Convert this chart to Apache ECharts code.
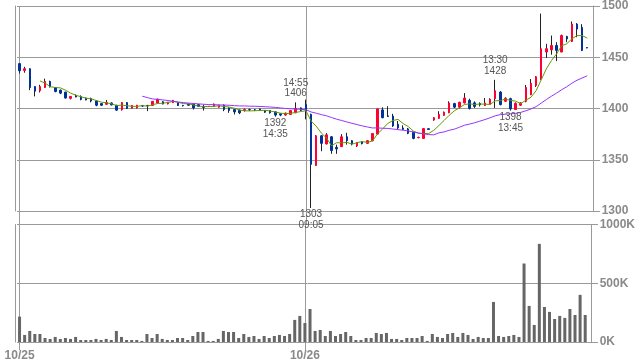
<!DOCTYPE html>
<html><head><meta charset="utf-8">
<script src="https://cdn.jsdelivr.net/npm/echarts@6/dist/echarts.min.js"></script>
<style>html,body{margin:0;padding:0;background:#fff}#c{width:638px;height:362px}</style>
</head><body><div id="c"></div>
<script>
// 5-minute bars, 10/25 (index 0-55) and 10/26 (index 56-111)
const opens = [1443.8,1437.1,1438.8,1421.4,1417.3,1420.5,1426.3,1420.5,1417.9,1416.0,
1409.9,1412.5,1411.5,1410.2,1409.6,1407.3,1404.8,1404.1,1405.4,1403.2,
1398.8,1405.8,1400.3,1400.6,1402.8,1403.0,1402.9,1405.4,1406.7,1404.5,
1405.8,1405.8,1403.0,1404.4,1404.4,1403.8,1401.5,1402.0,1402.2,1401.3,
1403.2,1400.6,1399.0,1398.4,1398.1,1399.0,1398.8,1399.6,1398.1,1398.0,
1396.7,1394.8,1393.6,1394.2,1395.8,1400.6,
1403.8,1394.2,1344.5,1373.4,1365.4,1372.4,1362.1,1362.8,1372.4,1368.6,
1363.5,1367.6,1366.0,1368.6,1375.0,1398.6,1392.8,1392.6,1384.6,1381.0,
1380.1,1376.9,1371.5,1370.8,1380.3,1388.8,1390.4,1393.3,1395.8,1404.8,
1401.3,1405.4,1408.0,1405.5,1405.0,1402.9,1404.0,1409.6,1416.0,1407.0,
1409.6,1399.0,1403.2,1407.0,1413.5,1422.4,1428.8,1455.1,1457.3,1461.5,
1455.1,1470.2,1465.4,1482.3,1479.1,1459.5];
const closes = [1436.8,1438.8,1420.5,1416.9,1421.4,1426.3,1421.2,1416.6,1415.0,1410.2,
1411.8,1411.2,1408.9,1408.3,1407.3,1403.2,1403.2,1405.8,1403.5,1398.4,
1405.8,1400.0,1402.9,1403.2,1402.4,1402.7,1407.0,1409.2,1404.4,1406.0,
1408.0,1402.9,1402.6,1403.2,1400.6,1402.2,1401.2,1402.2,1404.4,1403.2,
1399.0,1398.1,1396.7,1395.8,1399.0,1398.8,1398.8,1398.1,1396.4,1395.8,
1393.6,1393.6,1395.5,1398.1,1400.0,1398.1,
1397.4,1345.5,1373.4,1366.0,1374.3,1359.0,1360.6,1372.4,1368.6,1365.4,
1366.5,1365.7,1368.6,1375.6,1399.6,1391.0,1392.2,1383.0,1381.0,1379.6,
1375.8,1370.8,1371.8,1380.4,1379.5,1391.0,1394.2,1396.4,1405.4,1401.3,
1406.1,1410.2,1400.0,1402.0,1403.5,1405.4,1409.0,1417.3,1403.8,1410.0,
1399.6,1405.0,1405.4,1420.5,1424.6,1431.0,1458.3,1458.3,1461.5,1456.7,
1471.2,1467.9,1482.3,1477.5,1456.7,1459.0];
const lows = [1434.2,1434.9,1417.9,1411.8,1415.7,1420.3,1420.5,1415.8,1414.0,1409.8,
1408.9,1410.9,1408.0,1408.0,1406.0,1402.2,1402.5,1403.5,1403.0,1397.7,
1398.0,1399.5,1400.0,1400.0,1401.5,1397.4,1402.5,1405.0,1404.0,1404.0,
1405.5,1402.5,1402.0,1402.8,1399.0,1401.5,1398.0,1401.5,1402.0,1401.0,
1397.4,1395.8,1394.2,1394.5,1397.0,1397.5,1397.5,1397.5,1395.8,1395.0,
1392.0,1392.5,1393.0,1394.0,1395.5,1397.5,
1389.4,1303.0,1344.0,1358.3,1365.0,1355.8,1355.8,1362.5,1364.7,1364.0,
1362.5,1365.0,1365.5,1368.0,1375.0,1390.5,1392.0,1382.0,1380.0,1379.0,
1375.0,1370.0,1371.0,1370.5,1379.0,1388.0,1390.0,1393.0,1395.5,1400.5,
1400.0,1405.0,1399.0,1400.5,1402.0,1402.5,1403.5,1400.6,1403.0,1406.5,
1398.0,1398.5,1402.5,1406.0,1413.0,1421.0,1428.0,1449.3,1452.5,1446.2,
1455.0,1464.7,1465.0,1469.5,1456.0,1458.8];
const highs = [1444.0,1440.7,1439.0,1421.6,1423.1,1429.1,1427.2,1421.0,1418.5,1416.3,
1412.0,1413.8,1412.8,1410.5,1410.6,1408.0,1405.0,1408.3,1406.0,1403.5,
1406.0,1406.0,1403.2,1403.5,1403.5,1403.5,1407.3,1409.5,1407.0,1406.5,
1408.3,1406.0,1403.5,1404.8,1404.8,1404.0,1403.8,1402.5,1404.8,1403.5,
1404.0,1401.0,1399.5,1399.0,1400.0,1400.0,1399.5,1400.0,1398.5,1398.3,
1397.0,1395.0,1396.0,1398.5,1406.0,1401.0,
1408.7,1395.0,1374.0,1374.0,1376.0,1373.0,1364.7,1375.0,1376.3,1369.0,
1367.0,1368.0,1369.0,1376.0,1400.0,1401.2,1402.2,1394.8,1387.8,1383.6,
1381.0,1377.0,1372.5,1381.0,1380.8,1391.5,1397.4,1397.0,1407.0,1405.5,
1406.5,1415.0,1409.6,1407.0,1406.0,1410.2,1410.0,1428.0,1417.0,1411.0,
1410.5,1406.0,1406.0,1423.0,1428.8,1431.5,1492.6,1463.1,1471.2,1464.7,
1472.1,1471.0,1484.9,1483.3,1482.3,1459.5];
// volume in thousands of shares
const volumes = [216,60,94,68,68,34,26,43,26,34,26,43,17,17,17,26,17,26,17,94,
43,17,17,17,9,68,34,68,26,17,17,34,34,17,51,85,85,9,9,26,
94,85,85,34,68,43,51,26,51,34,51,60,51,68,188,222,
162,281,94,102,51,94,51,68,85,51,17,17,34,34,77,68,77,26,26,17,
34,34,34,51,9,68,43,34,68,77,43,77,60,26,43,34,34,341,51,43,
51,60,43,668,307,145,835,298,256,196,222,205,281,230,401,230];
const dayStartIndex = [0, 56];
const dayLabels = ['10/25', '10/26'];
const slotCount = 114;
const priceMin = 1300, priceMax = 1500, priceStep = 50;
const volMin = 0, volMax = 1000, volStep = 500;
const maShort = 5, maLong = 25;
// high / low annotations
const noteIndex = [54, 50, 57, 93, 96];
const notePrice = [1406, 1392, 1303, 1428, 1398];
const noteText = ['14:55\n1406', '1392\n14:35', '1303\n09:05', '13:30\n1428', '1398\n13:45'];
const noteSide = ['top', 'bottom', 'bottom', 'top', 'bottom'];

const cats = Array.from({length: slotCount}, (_, i) => String(i));
const bodies = opens.map((o, i) => [o, closes[i], Math.min(o, closes[i]), Math.max(o, closes[i])]);
const wicks = opens.map((o, i) => [o, closes[i], lows[i], highs[i]]);
function movingAverage(n) {
  return closes.map((_, i) => {
    if (i < n - 1) return '-';
    let s = 0;
    for (let k = i - n + 1; k <= i; k++) s += closes[k];
    return +(s / n).toFixed(2);
  });
}
const isDay = (i) => dayStartIndex.indexOf(i) >= 0;
const GRID = '#9a9a9a';
const LABEL = {color: '#8a8a8a', fontWeight: 'bold', fontSize: 12, fontFamily: 'Liberation Sans, Arial, sans-serif'};
const dayLineMark = {
  symbol: ['none', 'none'], silent: true, z: 1, animation: false,
  label: {show: false},
  lineStyle: {color: GRID, type: 'solid', width: 1},
  data: dayStartIndex.map(i => ({xAxis: i}))
};

const chart = echarts.init(document.getElementById('c'), null, {renderer: 'canvas'});
chart.setOption({
  animation: false,
  backgroundColor: '#fff',
  grid: [
    {left: 17, width: 583, top: 4, height: 207},
    {left: 17, width: 583, top: 224.5, height: 117.5}
  ],
  xAxis: [
    {type: 'category', gridIndex: 0, data: cats, boundaryGap: true,
     axisLine: {show: false},
     axisTick: {show: true, alignWithLabel: true, length: 13.5, interval: (i) => isDay(i), lineStyle: {color: GRID}},
     axisLabel: {show: false}, splitLine: {show: false}},
    {type: 'category', gridIndex: 1, data: cats, boundaryGap: true,
     axisLine: {show: false},
     axisTick: {show: true, alignWithLabel: true, length: 8, interval: (i) => isDay(i), lineStyle: {color: GRID}},
     axisLabel: Object.assign({show: true, interval: (i) => isDay(i), margin: 8,
       formatter: (v, i) => isDay(i) ? dayLabels[dayStartIndex.indexOf(i)] : ''}, LABEL),
     splitLine: {show: false}}
  ],
  yAxis: [
    {type: 'value', gridIndex: 0, position: 'right', offset: -6.7, min: priceMin, max: priceMax, interval: priceStep,
     axisLine: {show: true, lineStyle: {color: GRID}}, axisTick: {show: false},
     axisLabel: Object.assign({margin: 8.4, formatter: (v) => String(v)}, LABEL),
     splitLine: {show: true, lineStyle: {color: GRID, width: 1}}},
    {type: 'value', gridIndex: 0, position: 'left', offset: 1.3, min: priceMin, max: priceMax,
     axisLine: {show: true, lineStyle: {color: GRID}}, axisTick: {show: false}, axisLabel: {show: false}, splitLine: {show: false}},
    {type: 'value', gridIndex: 1, position: 'right', offset: -6.7, min: volMin, max: volMax, interval: volStep,
     axisLine: {show: true, lineStyle: {color: GRID}}, axisTick: {show: false},
     axisLabel: Object.assign({margin: 8.4, formatter: (v) => v + 'K'}, LABEL),
     splitLine: {show: true, lineStyle: {color: GRID, width: 1}}},
    {type: 'value', gridIndex: 1, position: 'left', offset: 1.3, min: volMin, max: volMax,
     axisLine: {show: true, lineStyle: {color: GRID}}, axisTick: {show: false}, axisLabel: {show: false}, splitLine: {show: false}}
  ],
  series: [
    {name: 'wick', type: 'candlestick', xAxisIndex: 0, yAxisIndex: 0, data: wicks, barWidth: 1, z: 2, silent: true,
     itemStyle: {color: '#222', color0: '#222', borderColor: '#222', borderColor0: '#222', borderColorDoji: '#222', borderWidth: 1},
     markLine: dayLineMark},
    {name: 'body', type: 'candlestick', xAxisIndex: 0, yAxisIndex: 0, data: bodies, barWidth: 2, z: 3, silent: true,
     itemStyle: {color: '#ff0033', color0: '#003399', borderColor: '#ff0033', borderColor0: '#003399', borderColorDoji: '#003399', borderWidth: 1},
     markPoint: {
       symbol: 'rect', symbolSize: 1, silent: true, animation: false,
       itemStyle: {color: 'rgba(0,0,0,0)'},
       data: noteIndex.map((ix, k) => ({
         coord: [ix, notePrice[k]],
         label: {show: true, position: noteSide[k], distance: noteSide[k] === 'top' ? 3 : 1,
                 formatter: noteText[k], color: '#555', fontSize: 10, lineHeight: 10.5,
                 fontFamily: 'Liberation Sans, Arial, sans-serif', align: 'center'}
       }))
     }},
    {name: 'MA' + maShort, type: 'line', xAxisIndex: 0, yAxisIndex: 0, data: movingAverage(maShort), z: 4,
     symbol: 'none', silent: true, lineStyle: {color: '#669900', width: 1}},
    {name: 'MA' + maLong, type: 'line', xAxisIndex: 0, yAxisIndex: 0, data: movingAverage(maLong), z: 4,
     symbol: 'none', silent: true, lineStyle: {color: '#9933ff', width: 1}},
    {name: 'volume', type: 'bar', xAxisIndex: 1, yAxisIndex: 2, data: volumes, barWidth: 3, z: 3, silent: true,
     itemStyle: {color: '#666'}, markLine: dayLineMark}
  ]
});
</script>
</body></html>
